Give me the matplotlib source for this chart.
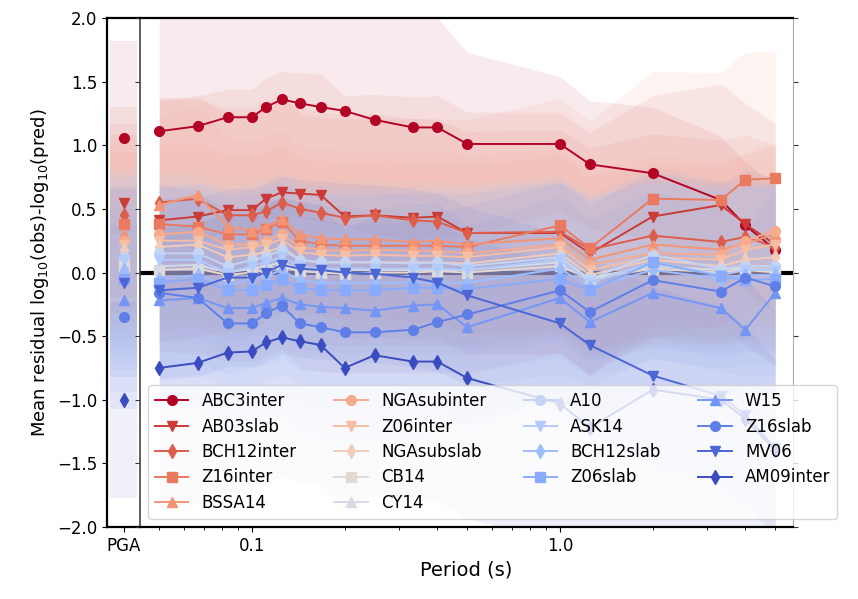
import numpy as np
import matplotlib
matplotlib.use("Agg")
import matplotlib.pyplot as plt

# ---------------- data ----------------
periods = [0.05, 0.0667, 0.0833, 0.1, 0.111, 0.125, 0.143, 0.167, 0.2, 0.25,
           0.333, 0.4, 0.5, 1.0, 1.25, 2.0, 3.33, 4.0, 5.0]

names = ["ABC3inter", "AB03slab", "BCH12inter", "Z16inter", "BSSA14",
         "NGAsubinter", "Z06inter", "NGAsubslab", "CB14", "CY14",
         "A10", "ASK14", "BCH12slab", "Z06slab", "W15", "Z16slab", "MV06", "AM09inter"]

pga_mean = [1.06, 0.55, 0.45, 0.38, 0.30, 0.25, 0.22, 0.18, 0.05, 0.07,
            0.12, 0.10, 0.02, -0.05, -0.22, -0.35, -0.08, -1.00]
pga_std = [0.76, 0.75, 0.72, 0.70, 0.70, 0.70, 0.70, 0.70, 0.70, 0.70,
           0.70, 0.70, 0.72, 0.72, 0.72, 0.72, 0.74, 0.77]

abc3inter = [1.11, 1.15, 1.22, 1.22, 1.30, 1.36, 1.33, 1.30, 1.27, 1.20, 1.14, 1.14, 1.01, 1.01, 0.85, 0.78, 0.57, 0.37, 0.18]
ab03slab = [0.41, 0.44, 0.49, 0.49, 0.58, 0.63, 0.62, 0.61, 0.44, 0.45, 0.43, 0.44, 0.31, 0.31, 0.15, 0.44, 0.53, 0.38, 0.22]
bch12inter = [0.55, 0.58, 0.45, 0.45, 0.48, 0.55, 0.50, 0.47, 0.43, 0.45, 0.41, 0.40, 0.31, 0.32, 0.18, 0.29, 0.24, 0.28, 0.20]
z16inter = [0.38, 0.36, 0.30, 0.30, 0.34, 0.40, 0.25, 0.22, 0.21, 0.21, 0.21, 0.21, 0.20, 0.37, 0.19, 0.58, 0.57, 0.73, 0.74]
bssa14 = [0.53, 0.61, 0.36, 0.33, 0.36, 0.42, 0.30, 0.27, 0.26, 0.26, 0.24, 0.25, 0.22, 0.27, 0.10, 0.22, 0.18, 0.23, 0.30]
ngasubinter = [0.30, 0.32, 0.22, 0.22, 0.25, 0.30, 0.20, 0.18, 0.17, 0.18, 0.17, 0.17, 0.15, 0.22, 0.06, 0.15, 0.14, 0.25, 0.33]
z06inter = [0.25, 0.25, 0.18, 0.20, 0.22, 0.26, 0.16, 0.14, 0.13, 0.14, 0.13, 0.13, 0.12, 0.20, 0.02, 0.12, 0.10, 0.18, 0.22]
ngasubslab = [0.20, 0.22, 0.12, 0.14, 0.16, 0.20, 0.10, 0.08, 0.08, 0.08, 0.08, 0.08, 0.07, 0.15, -0.02, 0.10, 0.05, 0.10, 0.12]
cb14 = [0.02, 0.03, -0.02, 0.00, 0.02, 0.05, 0.01, 0.00, -0.01, 0.00, 0.00, 0.01, 0.00, 0.05, -0.05, 0.03, 0.00, 0.02, 0.00]
cy14 = [0.05, 0.06, 0.00, 0.03, 0.05, 0.08, 0.03, 0.02, 0.02, 0.02, 0.02, 0.02, 0.02, 0.08, -0.04, 0.05, 0.02, 0.03, 0.02]
a10 = [0.15, 0.15, 0.05, 0.10, 0.12, 0.18, 0.10, 0.08, 0.08, 0.08, 0.07, 0.08, 0.05, 0.12, -0.05, 0.14, 0.03, 0.05, 0.05]
ask14 = [0.10, 0.10, 0.00, 0.05, 0.08, 0.12, 0.05, 0.03, 0.03, 0.03, 0.03, 0.03, 0.02, 0.10, -0.08, 0.08, -0.02, 0.02, 0.02]
bch12slab = [-0.05, -0.02, -0.10, -0.05, -0.03, 0.02, -0.06, -0.08, -0.08, -0.08, -0.08, -0.08, -0.08, 0.03, -0.12, 0.02, -0.05, -0.02, -0.02]
z06slab = [-0.08, -0.05, -0.14, -0.14, -0.10, -0.05, -0.12, -0.14, -0.14, -0.14, -0.12, -0.12, -0.13, -0.05, -0.14, 0.08, -0.03, -0.06, -0.05]
w15 = [-0.22, -0.20, -0.28, -0.28, -0.24, -0.20, -0.25, -0.27, -0.28, -0.30, -0.26, -0.25, -0.43, -0.20, -0.39, -0.16, -0.28, -0.45, -0.16]
z16slab = [-0.16, -0.20, -0.40, -0.40, -0.32, -0.26, -0.40, -0.43, -0.47, -0.47, -0.45, -0.39, -0.33, -0.14, -0.31, -0.06, -0.15, -0.04, -0.11]
mv06 = [-0.14, -0.12, -0.04, -0.04, 0.00, 0.06, 0.03, 0.02, 0.00, -0.01, -0.04, -0.08, -0.18, -0.40, -0.57, -0.81, -0.97, -1.12, -1.38]
am09inter = [-0.75, -0.71, -0.63, -0.62, -0.55, -0.51, -0.54, -0.57, -0.75, -0.65, -0.70, -0.70, -0.83, -1.03, -1.22, -0.92, -1.00, -1.15, -1.40]

abc3inter_std = [0.90, 0.90, 0.90, 0.90, 0.90, 0.90, 0.90, 0.90, 0.90, 0.90, 0.88, 0.86, 0.72, 0.53, 0.50, 0.52, 0.50, 0.50, 0.50]
series_std = [None, 0.95, 0.80, 1.00, 0.70, 0.70, 0.70, 0.65, 0.65, 0.65,
              0.65, 0.65, 0.70, 0.75, 0.80, 0.85, 0.70, 1.10]

series = [abc3inter, ab03slab, bch12inter, z16inter, bssa14, ngasubinter, z06inter,
          ngasubslab, cb14, cy14, a10, ask14, bch12slab, z06slab, w15, z16slab, mv06, am09inter]

markers = ["o", "v", "d", "s", "^"]

# ---------------- figure ----------------
W, H = 858, 599
fig = plt.figure(figsize=(W / 100, H / 100), dpi=100)
ax0 = fig.add_axes([107 / W, 1 - 527 / H, 33 / W, 509 / H])
ax = fig.add_axes([140 / W, 1 - 527 / H, 653 / W, 509 / H], sharey=ax0)

cmap = plt.cm.coolwarm
n = len(names)
colors = [cmap(1 - i / (n - 1)) for i in range(n)]

p = np.array(periods)
for i, (name, vals) in enumerate(zip(names, series)):
    v = np.array(vals)
    s = np.array(abc3inter_std) if i == 0 else series_std[i]
    c = colors[i]
    m = markers[i % 5]
    ax.fill_between(p, v - s, v + s, color=c, alpha=0.08, lw=0, zorder=1)
    ax.plot(p, v, color=c, marker=m, ms=7, lw=1.4, label=name, zorder=3)
    # PGA
    ax0.fill_between([-0.8, 0.8], pga_mean[i] - pga_std[i], pga_mean[i] + pga_std[i],
                     color=c, alpha=0.08, lw=0, zorder=1)
    ax0.plot([0], [pga_mean[i]], color=c, marker=m, ms=7, ls="none", zorder=3)

ax.axhline(0, color="k", lw=3, zorder=0.5)

ax.set_xscale("log")
ax.set_xlim(0.0433, 5.71)
ax.set_xticks([0.1, 1.0])
ax.set_xticklabels(["0.1", "1.0"], fontsize=12)
ax.set_ylim(-2, 2)
ax0.set_xlim(-1, 1)
ax0.set_xticks([0])
ax0.set_xticklabels(["PGA"], fontsize=12)
ax0.set_yticks([-2, -1.5, -1, -0.5, 0, 0.5, 1, 1.5, 2])
ax0.set_yticklabels(["\u22122.0", "\u22121.5", "\u22121.0", "\u22120.5", "0.0", "0.5", "1.0", "1.5", "2.0"], fontsize=12)
ax.tick_params(axis="y", left=True, right=True, labelleft=False, labelright=False)
ax.tick_params(axis="y", which="both", colors="#888888", labelcolor="k")

for a in (ax0, ax):
    a.spines["top"].set_linewidth(1.6)
    a.spines["bottom"].set_linewidth(1.6)
ax0.spines["left"].set_linewidth(1.6)
ax0.spines["right"].set_visible(False)
ax.spines["left"].set_color("#444444")
ax.spines["left"].set_linewidth(1.2)
ax.spines["right"].set_color("#aaaaaa")
ax.spines["right"].set_linewidth(0.8)
ax.tick_params(axis="y", which="major", left=True, color="#333333")

ax0.set_ylabel("Mean residual log$_{10}$(obs)-log$_{10}$(pred)", fontsize=13)
ax.set_xlabel("Period (s)", fontsize=14)

ax.legend(loc="lower left", ncol=4, fontsize=12, framealpha=0.8,
          columnspacing=2.25, labelspacing=0.45)

fig.savefig("out.png", dpi=100)
